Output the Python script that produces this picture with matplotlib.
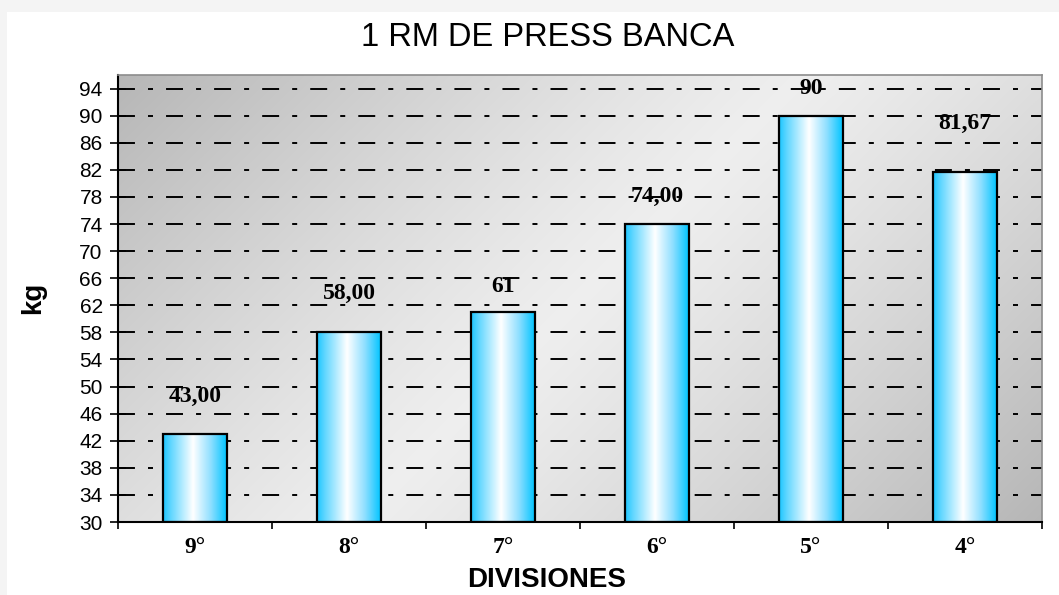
import numpy as np
import matplotlib.pyplot as plt
from matplotlib.colors import LinearSegmentedColormap
from matplotlib.patches import Rectangle

categories = ["9°", "8°", "7°", "6°", "5°", "4°"]
values = [43.00, 58.00, 61.00, 74.00, 90.00, 81.67]
value_labels = ["43,00", "58,00", "61", "74,00", "90", "81,67"]
label_offsets = [5.5, 5.8, 3.7, 4.0, 4.0, 7.2]
y_ticks = list(range(30, 95, 4))

W, H = 1059, 595
plt.rcParams['lines.scale_dashes'] = False

fig = plt.figure(figsize=(W / 100, H / 100), dpi=100, facecolor='#f4f4f4')
fig.patches.append(Rectangle((7 / W, 0), 1, (H - 12) / H, transform=fig.transFigure,
                             facecolor='white', edgecolor='none', zorder=-10))

ax = fig.add_axes([118 / W, (H - 522) / H, 924 / W, 447 / H])
ax.set_facecolor('none')

# diagonal grey background: dark corners, light band along the other diagonal
aw, ah = 924, 447
xx, yy = np.meshgrid(np.linspace(0, aw, 300), np.linspace(0, ah, 150))
t = (xx + yy) / (aw + ah)
shade = 0.935 - 0.22 * np.abs(2 * t - 1) ** 1.2
bg = np.dstack([shade, shade, shade])
ax.imshow(bg, extent=[0, 1, 0, 1], transform=ax.transAxes, aspect='auto',
          origin='upper', zorder=0, interpolation='bilinear')

bar_cmap = LinearSegmentedColormap.from_list(
    'cyl', [(0.0, '#1cc6ff'), (0.12, '#5fd6ff'), (0.47, '#ffffff'),
            (0.75, '#8fdfff'), (1.0, '#00c4ff')])
grad = np.linspace(0, 1, 256).reshape(1, -1)

x = np.arange(len(categories))
bw = 0.41
for xi, v in zip(x, values):
    ax.imshow(grad, cmap=bar_cmap, extent=[xi - bw / 2, xi + bw / 2, 30, v],
              aspect='auto', zorder=2, interpolation='bilinear')
ax.bar(x, [v - 30 for v in values], bottom=30, width=bw, facecolor='none',
       edgecolor='black', linewidth=1.6, zorder=3)

for xi, v, lab, off in zip(x, values, value_labels, label_offsets):
    ax.text(xi, v + off, lab, ha='center', va='center', fontsize=17,
            fontweight='bold', family='Liberation Serif', zorder=4)

ax.set_xlim(-0.5, len(categories) - 0.5)
ax.set_ylim(30, 96)
ax.set_yticks(y_ticks)
ax.tick_params(axis='y', direction='inout', length=12, width=1.2, pad=5,
               labelsize=15)
for lab in ax.get_yticklabels():
    lab.set_family('Liberation Sans')

ax.set_xticks(x)
ax.set_xticklabels(categories, fontsize=17, fontweight='bold',
                   family='Liberation Serif')
ax.set_xticks(np.arange(-0.5, len(categories)), minor=True)
ax.tick_params(axis='x', which='major', length=0, pad=11)
ax.tick_params(axis='x', which='minor', direction='out', length=5, width=1.2)

ax.yaxis.grid(True, color='black', linewidth=1.4,
              linestyle=(0, (12.2, 9.4, 3.6, 9.4)))
ax.set_axisbelow(True)

ax.spines['left'].set_linewidth(1.5)
ax.spines['bottom'].set_linewidth(1.5)
for s in ('top', 'right'):
    ax.spines[s].set_color('#8c8c8c')
    ax.spines[s].set_linewidth(1.2)

fig.text(548 / W, 1 - 37 / H, "1 RM DE PRESS BANCA", ha='center', va='center',
         fontsize=23.5, family='Liberation Sans')
fig.text(547 / W, 1 - 580 / H, "DIVISIONES", ha='center', va='center',
         fontsize=20, fontweight='bold', family='Liberation Sans')
fig.text(33 / W, 1 - 298 / H, "kg", ha='center', va='center', rotation=90,
         fontsize=20, fontweight='bold', family='Liberation Sans')

fig.savefig('out.png', dpi=100, facecolor=fig.get_facecolor())
